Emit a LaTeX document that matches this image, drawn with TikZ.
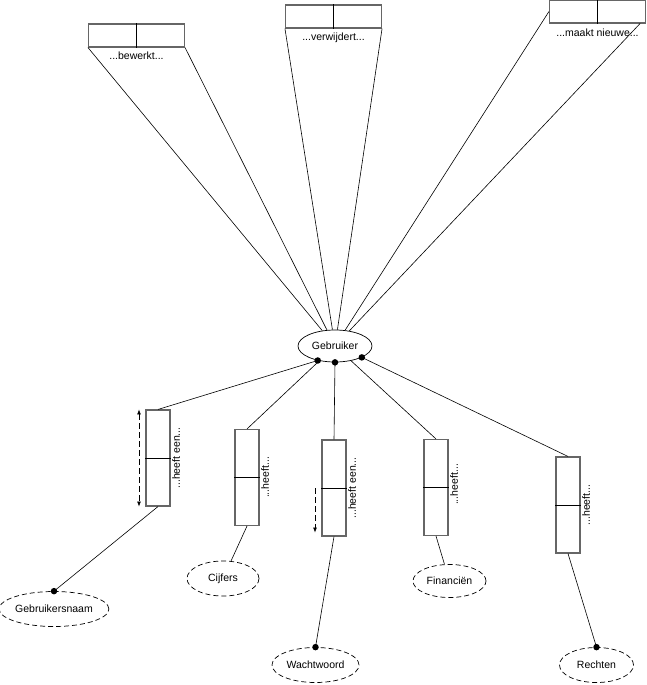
\documentclass[tikz,border=0pt]{standalone}
\usepackage{fontspec}
\setmainfont{Liberation Sans}
\usepackage{tikz}
\usetikzlibrary{positioning, arrows.meta, shapes.geometric}

\begin{document}
\begin{tikzpicture}[x=1pt, y=-1pt, font=\fontsize{10.5}{12}\selectfont,
	feit/.style={draw=black!60, line width=1.1pt, minimum width=96pt, minimum height=23pt, inner sep=0pt},
	rol/.style={draw=black!60, line width=1.1pt, minimum width=24pt, minimum height=96pt, inner sep=0pt},
	deler/.style={line width=0.8pt},
	lijn/.style={line width=0.6pt},
	soort/.style={draw, ellipse, line width=0.7pt, inner sep=0pt},
	waarde/.style={soort, dash pattern=on 5pt off 3pt},
	stip/.style={circle, fill, inner sep=0pt, minimum size=6.5pt},
	uniek/.style={dash pattern=on 6pt off 3pt, line width=0.7pt}]
			\useasboundingbox (0,0) rectangle (647,685);
			
			% bovenste feittypen
			\node[feit] (bew) at (136.5,35.5) {};
			\node[feit] (verw) at (333.5,16.5) {};
			\node[feit] (nieuw) at (597.5,11.5) {};
			\foreach \f in {bew, verw, nieuw}
				\draw[deler] (\f.north) -- (\f.south);
			\node[below=1pt of bew] (lbew) {...bewerkt...};
			\node[below=1pt of verw] (lverw) {...verwijdert...};
			\node[below=2pt of nieuw] (lnieuw) {...maakt nieuwe...};
			
			\node[soort, minimum width=74pt, minimum height=32pt] (geb) at (335,346) {Gebruiker};
			
			\draw[lijn] (bew.south west) -- (geb);
			\draw[lijn] (bew.south east) -- (geb);
			\draw[lijn] (verw.south west) -- (geb);
			\draw[lijn] (verw.south east) -- (geb);
			\draw[lijn] (nieuw.west) -- (geb);
			\draw[lijn] ([xshift=-6pt]nieuw.south east) -- (geb);
			
			% rollen onder Gebruiker
			\node[rol] (naam) at (158,458) {};
			\node[rol] (cijf) at (247,477.5) {};
			\node[rol] (ww) at (334,488) {};
			\node[rol] (fin) at (436,487.5) {};
			\node[rol] (recht) at (568,505) {};
			\foreach \r in {naam, cijf, ww, fin, recht}
				\draw[deler] (\r.west) -- (\r.east);
			
			\node[rotate=90, anchor=north, inner sep=1.5pt] (lnaam) at (naam.east) {...heeft een...};
			\node[rotate=90, anchor=north, inner sep=1.5pt] (lcijf) at (cijf.east) {...heeft...};
			\node[rotate=90, anchor=north, inner sep=1.5pt] (lww) at (ww.east) {...heeft een...};
			\node[rotate=90, anchor=north, inner sep=1.5pt] (lfin) at ([yshift=3pt]fin.east) {...heeft...};
			\node[rotate=90, anchor=north, inner sep=1.5pt] (lrecht) at (recht.east) {...heeft...};
			
			% objecttypen
			\node[waarde, minimum width=104pt, minimum height=35pt] (gnaam) at (54,609) {Gebruikersnaam};
			\node[waarde, minimum width=72pt, minimum height=35pt] (cijfers) at (223,578.5) {Cijfers};
			\node[waarde, minimum width=87pt, minimum height=35pt] (wwoord) at (315.5,665) {Wachtwoord};
			\node[waarde, minimum width=73pt, minimum height=33pt] (financ) at (449.5,581) {Financiën};
			\node[waarde, minimum width=74pt, minimum height=35pt] (rechten) at (596.5,665) {Rechten};
			
			% verplichte rollen
			\node[stip] (s1) at (geb.220) {};
			\node[stip] (s2) at (geb.south) {};
			\node[stip] (s3) at (geb.337) {};
			\node[stip] (s4) at (gnaam.north) {};
			\node[stip] (s5) at (wwoord.north) {};
			\node[stip] (s6) at (rechten.north) {};
			
			\draw[lijn] (s1.center) -- (naam.north);
			\draw[lijn] (geb) -- (cijf.north);
			\draw[lijn] (s2.center) -- (ww.north);
			\draw[lijn] (geb) -- (fin.north);
			\draw[lijn] (s3.center) -- (recht.north);
			
			\draw[lijn] (naam.south) -- (s4.center);
			\draw[lijn] (cijf.south) -- (cijfers);
			\draw[lijn] (ww.south) -- (s5.center);
			\draw[lijn] (fin.south) -- (financ);
			\draw[lijn] (recht.south) -- (s6.center);
			
			% uniciteit
			\draw[uniek, {Latex[length=5pt, width=4pt]}-{Latex[length=5pt, width=4pt]}] ([xshift=-19pt]naam.north) -- ([xshift=-19pt]naam.south);
			\draw[uniek, -{Latex[length=5pt, width=4pt]}] ([xshift=-19pt]ww.center) -- ([xshift=-19pt, yshift=4pt]ww.south);
			\end{tikzpicture}
\end{document}
